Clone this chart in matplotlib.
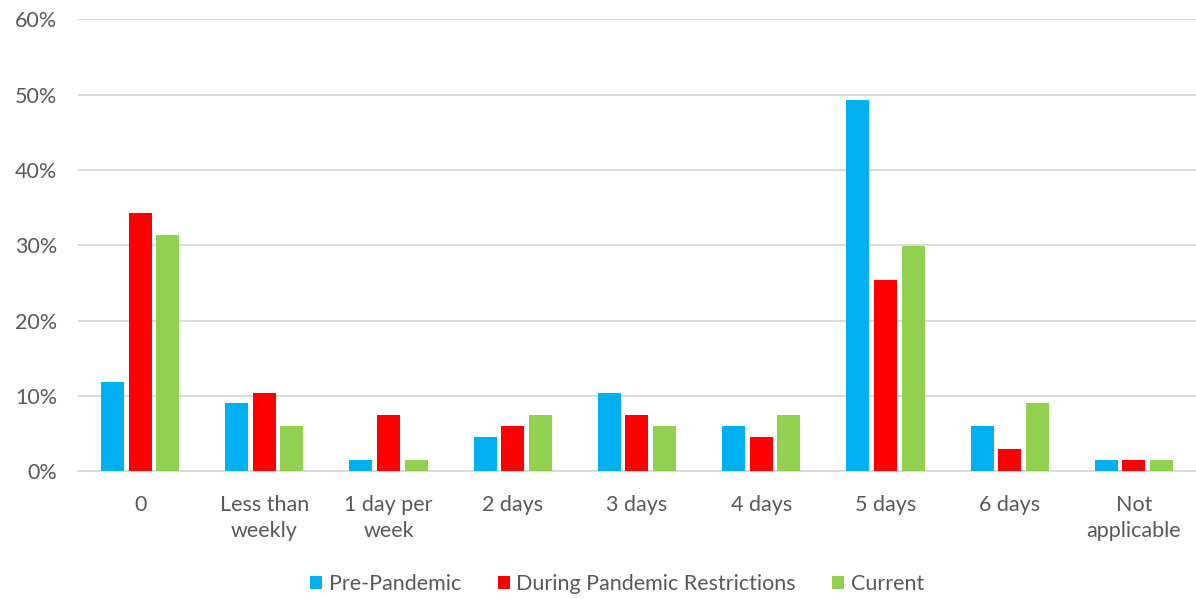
import matplotlib
matplotlib.use('Agg')
import matplotlib.pyplot as plt
import numpy as np
from matplotlib.ticker import PercentFormatter

categories = ['0', 'Less than\nweekly', '1 day per\nweek', '2 days', '3 days',
              '4 days', '5 days', '6 days', 'Not\napplicable']
pre_pandemic = [11.9, 9.0, 1.5, 4.5, 10.4, 6.0, 49.3, 6.0, 1.5]
during_restrictions = [34.3, 10.4, 7.5, 6.0, 7.5, 4.5, 25.4, 3.0, 1.5]
current = [31.3, 6.0, 1.5, 7.5, 6.0, 7.5, 29.9, 9.0, 1.5]

series_names = ['Pre-Pandemic', 'During Pandemic Restrictions', 'Current']
colors = ['#00b0f0', '#ff0000', '#92d050']
text_color = '#595959'

plt.rcParams['font.family'] = ['Lato', 'DejaVu Sans']

fig = plt.figure(figsize=(11.96, 5.99), dpi=100)
ax = fig.add_axes([0.0652, 0.2132, 0.9348, 0.7546])

x = np.arange(len(categories))
step = 0.222
for i, (vals, name, c) in enumerate(zip([pre_pandemic, during_restrictions, current],
                                        series_names, colors)):
    ax.bar(x + (i - 1) * step, vals, width=0.185, color=c, label=name, zorder=3)

ax.set_xlim(-0.5, len(categories) - 0.5)
ax.set_ylim(0, 60)
ax.set_yticks(np.arange(0, 61, 10))
ax.yaxis.set_major_formatter(PercentFormatter(decimals=0))
ax.set_xticks(x)
ax.set_xticklabels(categories)

ax.grid(axis='y', color='#d9d9d9', linewidth=1.3, zorder=0)
for s in ['top', 'right', 'left']:
    ax.spines[s].set_visible(False)
ax.spines['bottom'].set_color('#d9d9d9')
ax.spines['bottom'].set_linewidth(1.3)
ax.tick_params(axis='both', length=0, labelsize=15.5, colors=text_color)
ax.tick_params(axis='y', pad=15)
ax.tick_params(axis='x', pad=17)
for lbl in ax.get_xticklabels():
    lbl.set_linespacing(1.4)

fig.legend(loc='center', bbox_to_anchor=(0.516, 0.025), ncol=3, frameon=False,
           fontsize=15.5, labelcolor=text_color, handlelength=0.56, handleheight=0.56,
           handletextpad=0.3, columnspacing=1.7)

fig.savefig('out.png', dpi=100)
